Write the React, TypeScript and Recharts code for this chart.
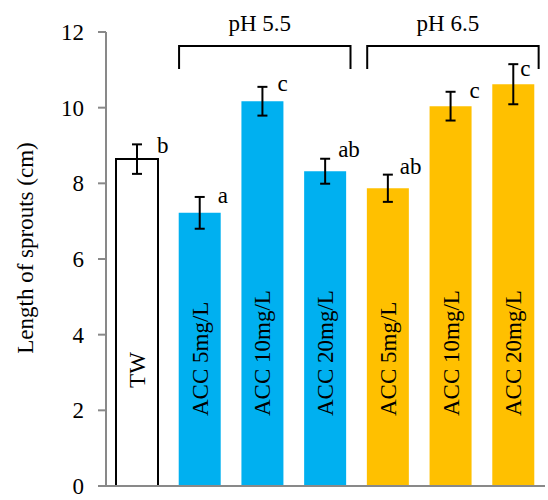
import { BarChart, Bar, XAxis, YAxis, ErrorBar, Cell, LabelList, Customized } from 'recharts';

// values
const treatments = ['TW', 'ACC 5mg/L', 'ACC 10mg/L', 'ACC 20mg/L', 'ACC 5mg/L', 'ACC 10mg/L', 'ACC 20mg/L'];
const sproutLength = [8.64, 7.22, 10.17, 8.32, 7.87, 10.04, 10.62];
const sproutErr = [0.39, 0.42, 0.38, 0.33, 0.36, 0.38, 0.53];
const sigLetters = ['b', 'a', 'c', 'ab', 'ab', 'c', 'c'];
const groupIdx = [0, 1, 1, 1, 2, 2, 2];
const groupNames = ['', 'pH 5.5', 'pH 6.5'];
const yTicks = [0, 2, 4, 6, 8, 10, 12];

const fills = ['#FFFFFF', '#00B0F0', '#FFC000'];
// hand placement of the significance letters (dx from bar centre, dy from error cap)
const letterNudge = [[20, 9], [18, 6], [15, 4], [13, -2], [12, -1], [19, 6], [7, 12]];

const W = 548;
const H = 500;
const M = { top: 32, right: 3, bottom: 13, left: 0 };
const Y_W = 106;
const AXIS = '#898989';
const FONT = '"Liberation Serif", "Times New Roman", serif';
const FS = 23;

const data = treatments.map((name, i) => ({
  k: i,
  name,
  len: sproutLength[i],
  err: sproutErr[i],
  letter: sigLetters[i],
  group: groupIdx[i],
}));

const plotLeft = M.left + Y_W;
const plotW = W - plotLeft - M.right;
const band = plotW / treatments.length;
const BAR = 42;

function Annotations() {
  const brackets = [1, 2].map((g) => {
    const idx = groupIdx.map((v, i) => (v === g ? i : -1)).filter((i) => i >= 0);
    const x1 = plotLeft + band * (idx[0] + 0.5) - BAR / 2;
    const x2 = plotLeft + band * (idx[idx.length - 1] + 0.5) + BAR / 2 + 4;
    return { g, x1, x2 };
  });
  return (
    <g>
      <text x={33} y={248} transform="rotate(-90 33 248)" textAnchor="middle" fontFamily={FONT} fontSize={FS} fill="#000">
        Length of sprouts (cm)
      </text>
      {brackets.map((b) => (
        <g key={b.g}>
          <path d={`M${b.x1},69 V46 H${b.x2} V69`} stroke="#000" strokeWidth={2} fill="none" />
          <text x={(b.x1 + b.x2) / 2 - 5} y={31} textAnchor="middle" fontFamily={FONT} fontSize={FS} fill="#000">
            {groupNames[b.g]}
          </text>
        </g>
      ))}
    </g>
  );
}

function InsideName(props: any) {
  const { x, y, width, height, index } = props;
  const cx = x + width / 2 + 8;
  const bottom = y + height;
  const isTW = groupIdx[index] === 0;
  const ty = isTW ? bottom - 116 : bottom - 70;
  return (
    <text
      x={cx}
      y={ty}
      transform={`rotate(-90 ${cx} ${ty})`}
      textAnchor={isTW ? 'middle' : 'start'}
      fontFamily={FONT}
      fontSize={FS}
      fill="#000"
    >
      {treatments[index]}
    </text>
  );
}

function SigLetter(props: any) {
  const { x, y, width, height, index } = props;
  const perUnit = height / sproutLength[index];
  const capY = y - sproutErr[index] * perUnit;
  const [dx, dy] = letterNudge[index];
  return (
    <text x={x + width / 2 + dx} y={capY + dy} fontFamily={FONT} fontSize={FS} fill="#000">
      {sigLetters[index]}
    </text>
  );
}

export default function App() {
  return (
    <div style={{ position: 'absolute', left: 0, top: 0, background: '#fff' }}>
      <BarChart width={W} height={H} data={data} margin={M} barCategoryGap={0}>
        <XAxis
          dataKey="k"
          type="category"
          tick={false}
          tickLine={false}
          height={1}
          axisLine={{ stroke: AXIS, strokeWidth: 2 }}
        />
        <YAxis
          width={Y_W}
          domain={[0, 12]}
          ticks={yTicks}
          interval={0}
          tickSize={8}
          tickMargin={14}
          axisLine={{ stroke: AXIS, strokeWidth: 2 }}
          tickLine={{ stroke: AXIS, strokeWidth: 2 }}
          tick={{ fill: '#000', fontSize: FS, fontFamily: FONT }}
        />
        <Bar dataKey="len" barSize={BAR} isAnimationActive={false}>
          {data.map((d) => (
            <Cell
              key={d.k}
              fill={fills[d.group]}
              stroke={d.group === 0 ? '#000' : 'none'}
              strokeWidth={d.group === 0 ? 2 : 0}
            />
          ))}
          <ErrorBar dataKey="err" width={5} stroke="#000" strokeWidth={2} isAnimationActive={false} />
          <LabelList dataKey="name" content={InsideName} />
          <LabelList dataKey="letter" content={SigLetter} />
        </Bar>
        <Customized component={Annotations} />
      </BarChart>
    </div>
  );
}
